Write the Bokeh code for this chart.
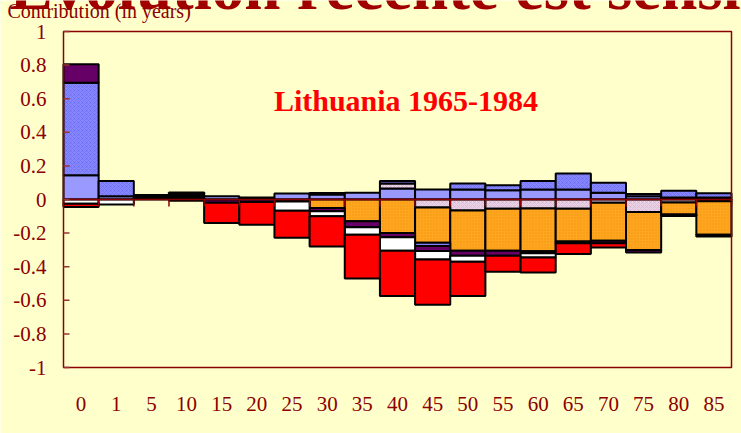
import numpy as np
from bokeh.plotting import figure
from bokeh.models import ColumnDataSource, Label, Range1d
from bokeh.embed import file_html
from bokeh.resources import INLINE

# ---- data -------------------------------------------------------------
ages = ["0", "1", "5", "10", "15", "20", "25", "30", "35", "40", "45",
        "50", "55", "60", "65", "70", "75", "80", "85"]

y_ticks = [-1, -0.8, -0.6, -0.4, -0.2, 0, 0.2, 0.4, 0.6, 0.8, 1]
y_tick_labels = ["-1", "-0.8", "-0.6", "-0.4", "-0.2", "0", "0.2", "0.4", "0.6", "0.8", "1"]

# contributions (years) by series, per age group (stack order)
light_blue = [0.145, 0.02, 0.01, 0.008, 0.02, 0.012, 0.035, 0.03, 0.04, 0.065,
              0.06, 0.06, 0.055, 0.06, 0.06, 0.04, 0.02, 0.012, 0.012]
pink = [0, 0, 0, 0.01, 0, 0, 0, 0, 0, 0.03,
        -0.047, -0.065, -0.055, -0.053, -0.055, -0.02, -0.075, -0.018, -0.01]
orange = [0, 0, 0, 0.008, 0, 0, -0.012, -0.05, -0.13, -0.2,
          -0.21, -0.24, -0.25, -0.255, -0.195, -0.225, -0.225, -0.072, -0.2]
blue_hatched = [0.55, 0.09, 0.012, 0.01, 0, 0, 0, 0.008, 0, 0.015,
                -0.02, 0.035, 0.03, 0.05, 0.095, 0.06, 0.012, 0.04, 0.025]
purple = [0.11, 0, 0.005, 0.006, -0.02, -0.015, 0, -0.02, -0.035, -0.025,
          -0.03, -0.03, -0.03, -0.012, -0.01, -0.015, -0.015, -0.008, -0.01]
white = [-0.025, -0.03, 0, -0.008, 0, 0, -0.055, -0.03, -0.045, -0.08,
         -0.05, -0.035, 0, -0.025, 0, 0, 0, 0, 0]
red = [-0.02, 0, 0, 0, -0.12, -0.135, -0.16, -0.18, -0.26, -0.27,
       -0.27, -0.205, -0.095, -0.09, -0.065, -0.025, 0, 0, 0]

series = [
    (light_blue, dict(fill_color="#9999ff")),
    (pink, dict(fill_color="#ead2e6", hatch_pattern="diagonal_cross", hatch_color="#c9a3c4",
                hatch_scale=4, hatch_weight=0.6, hatch_alpha=0.7)),
    (orange, dict(fill_color="#ffa51f", hatch_pattern="dot", hatch_color="#e08a00",
                  hatch_scale=3, hatch_weight=0.6, hatch_alpha=0.5)),
    (blue_hatched, dict(fill_color="#8686ff", hatch_pattern="diagonal_cross", hatch_color="#5c5ce6",
                        hatch_scale=4, hatch_weight=0.6, hatch_alpha=0.7)),
    (purple, dict(fill_color="#660066")),
    (white, dict(fill_color="#ffffff")),
    (red, dict(fill_color="#ff0000")),
]

DARK_RED = "#8b0000"
BG = "#ffffcc"
SERIF = "Liberation Serif"

# ---- layout geometry (pixels) --------------------------------------------
W, H = 741, 433
LEFT, RIGHT, TOP, BOTTOM = 63, 731, 31, 367      # chart box on the page
n = len(ages)
XS = (RIGHT - LEFT) / n                            # px per category
YS = (BOTTOM - TOP) / (y_ticks[-1] - y_ticks[0])   # px per year
MID = 0.4                                          # baseline -> middle offset (em)


def px_x(px):
    return (px - LEFT) / XS


def px_y(py):
    return y_ticks[-1] - (py - TOP) / YS


p = figure(width=W, height=H,
           x_range=Range1d(px_x(0), px_x(W)), y_range=Range1d(px_y(H), px_y(0)),
           x_axis_type=None, y_axis_type=None,
           output_backend="svg", toolbar_location=None,
           background_fill_color=BG, border_fill_color=BG,
           min_border=0, min_border_left=0, min_border_right=0,
           min_border_top=0, min_border_bottom=0)
p.grid.visible = False
p.outline_line_color = None

# ---- stacked bars (positive up, negative down) -----------------------------
pos_cum = np.zeros(n)
neg_cum = np.zeros(n)
for vals, style in series:
    v = np.array(vals, dtype=float)
    bottom = np.where(v >= 0, pos_cum, neg_cum + v)
    top = np.where(v >= 0, pos_cum + v, neg_cum)
    pos_cum = pos_cum + np.clip(v, 0, None)
    neg_cum = neg_cum + np.clip(v, None, 0)
    idx = np.nonzero(v)[0]
    src = ColumnDataSource(dict(left=idx.astype(float), right=idx + 1.0,
                                top=top[idx], bottom=bottom[idx]))
    p.quad(left="left", right="right", top="top", bottom="bottom", source=src,
           line_color="black", line_width=2, **style)

# ---- chart box, zero line, ticks --------------------------------------------
p.quad(left=[0], right=[n], bottom=[y_ticks[0]], top=[y_ticks[-1]],
       fill_color=None, line_color=DARK_RED, line_width=1.5)
p.segment(x0=[0], x1=[n], y0=[0], y1=[0], line_color=DARK_RED, line_width=1.5)
bounds = np.arange(n + 1, dtype=float)
p.segment(x0=bounds, x1=bounds, y0=np.zeros(n + 1), y1=np.full(n + 1, -7 / YS),
          line_color=DARK_RED, line_width=1.5)
yt = np.array(y_ticks, dtype=float)
p.segment(x0=np.zeros(len(yt)), x1=np.full(len(yt), 6 / XS), y0=yt, y1=yt,
          line_color="#993333", line_width=1.5)

# ---- tick labels ----------------------------------------------------------
p.text(x=np.full(len(yt), px_x(46)), y=yt, text=y_tick_labels,
       text_align="right", text_baseline="middle", text_font={"value": SERIF},
       text_font_size="21px", text_color=DARK_RED)
p.text(x=np.arange(n) + 0.5, y=np.full(n, px_y(403)), text=ages,
       text_align="center", text_baseline="middle", text_font={"value": SERIF},
       text_font_size="21px", text_color=DARK_RED)

# ---- texts --------------------------------------------------------------
p.add_layout(Label(x=px_x(9), y=px_y(12 - MID * 65), text="Évolution récente est sensible",
                   text_font=SERIF, text_font_style="bold", text_font_size="65px",
                   text_color="#a00000", text_baseline="middle"))
p.add_layout(Label(x=px_x(7), y=px_y(18.3 - MID * 20), text="Contribution (in years)",
                   text_font=SERIF, text_font_size="20px", text_color=DARK_RED,
                   text_baseline="middle"))
p.add_layout(Label(x=px_x(405.5), y=px_y(111.7 - MID * 30), text="Lithuania 1965-1984",
                   text_font=SERIF, text_font_style="bold", text_font_size="30px",
                   text_color="#ff0000", text_align="center", text_baseline="middle"))

html = file_html(p, INLINE)
html = html.replace("<body>", '<body style="background-color:#ffffcc">', 1)
open("out.html", "w").write(html)
